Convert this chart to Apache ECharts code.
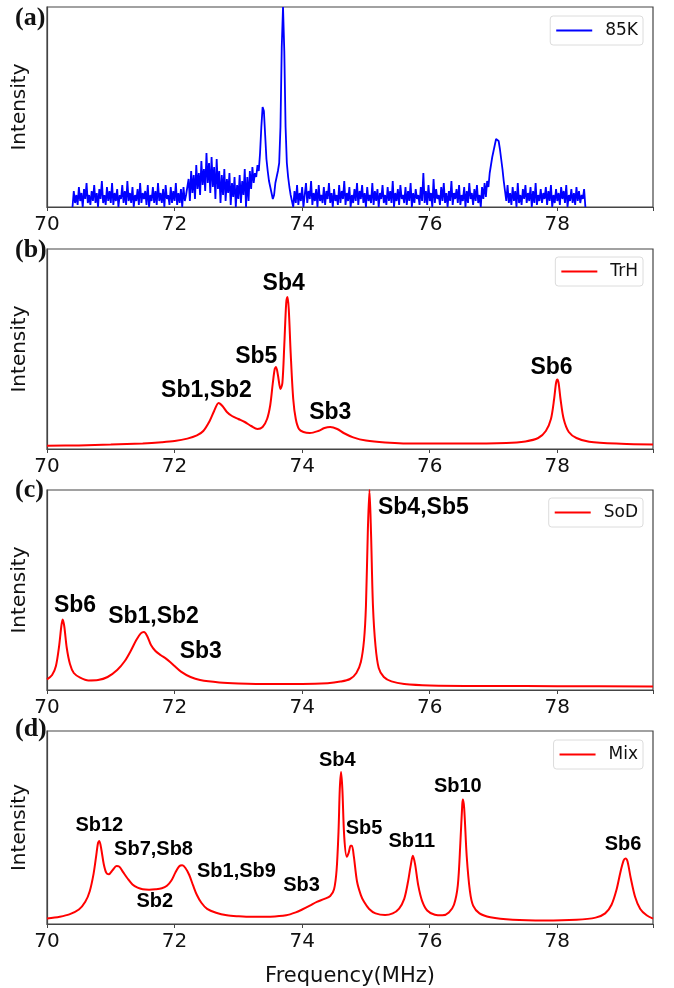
<!DOCTYPE html>
<html>
<head>
<meta charset="utf-8">
<script src="https://cdn.jsdelivr.net/npm/echarts@6/dist/echarts.min.js"></script>
<style>html,body{margin:0;padding:0;background:#fff;}#c{width:674px;height:988px;}</style>
</head>
<body>
<div id="c"></div>
<script>
// ---------- data ----------
const xTicks = [70, 72, 74, 76, 78];

// (a) 85K measured spectrum [frequency MHz, intensity]
const data85K = [
[70.40,0.00],[70.42,0.08],[70.44,0.02],[70.46,0.06],[70.48,0.01],[70.50,0.10],[70.52,0.03],[70.54,0.07],[70.56,0.00],[70.58,0.09],
[70.60,0.04],[70.62,0.12],[70.64,0.02],[70.66,0.06],[70.68,0.01],[70.70,0.08],[70.72,0.03],[70.74,0.11],[70.76,0.02],[70.78,0.07],
[70.80,0.00],[70.82,0.09],[70.84,0.04],[70.86,0.13],[70.88,0.02],[70.90,0.06],[70.92,0.01],[70.94,0.10],[70.96,0.03],[70.98,0.08],
[71.00,0.02],[71.02,0.12],[71.04,0.01],[71.06,0.07],[71.08,0.03],[71.10,0.09],[71.12,0.00],[71.14,0.06],[71.16,0.04],[71.18,0.11],
[71.20,0.02],[71.22,0.08],[71.24,0.01],[71.26,0.13],[71.28,0.03],[71.30,0.07],[71.32,0.02],[71.34,0.10],[71.36,0.00],[71.38,0.06],
[71.40,0.03],[71.42,0.09],[71.44,0.01],[71.46,0.12],[71.48,0.02],[71.50,0.07],[71.52,0.04],[71.54,0.08],[71.56,0.01],[71.58,0.11],
[71.60,0.00],[71.62,0.06],[71.64,0.03],[71.66,0.10],[71.68,0.02],[71.70,0.08],[71.72,0.01],[71.74,0.12],[71.76,0.03],[71.78,0.07],
[71.80,0.02],[71.82,0.09],[71.84,0.00],[71.86,0.11],[71.88,0.04],[71.90,0.06],[71.92,0.01],[71.94,0.10],[71.96,0.02],[71.98,0.08],
[72.00,0.03],[72.02,0.12],[72.04,0.01],[72.06,0.07],[72.08,0.02],[72.10,0.09],[72.12,0.00],[72.14,0.10],[72.16,0.03],[72.18,0.06],
[72.20,0.05],[72.22,0.14],[72.24,0.03],[72.26,0.18],[72.28,0.07],[72.30,0.16],[72.32,0.04],[72.34,0.21],[72.36,0.09],[72.38,0.17],
[72.40,0.06],[72.42,0.23],[72.44,0.11],[72.46,0.19],[72.48,0.08],[72.50,0.27],[72.52,0.12],[72.54,0.22],[72.56,0.07],[72.58,0.25],
[72.60,0.10],[72.62,0.20],[72.64,0.04],[72.66,0.24],[72.68,0.09],[72.70,0.18],[72.72,0.02],[72.74,0.16],[72.76,0.06],[72.78,0.19],
[72.80,0.03],[72.82,0.14],[72.84,0.07],[72.86,0.17],[72.88,0.01],[72.90,0.12],[72.92,0.05],[72.94,0.15],[72.96,0.00],[72.98,0.11],
[73.00,0.04],[73.02,0.16],[73.04,0.02],[73.06,0.13],[73.08,0.06],[73.10,0.19],[73.12,0.00],[73.14,0.15],[73.16,0.03],[73.18,0.18],
[73.20,0.09],[73.22,0.20],[73.24,0.12],[73.26,0.17],[73.28,0.15],[73.30,0.21],[73.32,0.18],[73.34,0.27],[73.36,0.40],[73.38,0.50],
[73.39,0.51],[73.40,0.48],[73.42,0.36],[73.44,0.24],[73.46,0.18],[73.48,0.13],[73.50,0.10],[73.52,0.07],[73.54,0.04],[73.56,0.06],
[73.58,0.12],[73.60,0.15],[73.62,0.18],[73.64,0.22],[73.66,0.40],[73.68,0.80],[73.70,1.00],[73.72,0.78],[73.74,0.40],[73.76,0.22],
[73.78,0.15],[73.80,0.10],[73.82,0.06],[73.84,0.03],[73.86,0.00],
[73.88,0.08],[73.90,0.02],[73.92,0.11],[73.94,0.01],[73.96,0.07],[73.98,0.03],[74.00,0.10],[74.02,0.00],[74.04,0.06],[74.06,0.12],
[74.08,0.02],[74.10,0.08],[74.12,0.04],[74.14,0.13],[74.16,0.01],[74.18,0.07],[74.20,0.03],[74.22,0.09],[74.24,0.00],[74.26,0.11],
[74.28,0.03],[74.30,0.06],[74.32,0.02],[74.34,0.10],[74.36,0.01],[74.38,0.08],[74.40,0.04],[74.42,0.12],[74.44,0.02],[74.46,0.07],
[74.48,0.00],[74.50,0.09],[74.52,0.03],[74.54,0.06],[74.56,0.01],[74.58,0.11],[74.60,0.02],[74.62,0.08],[74.64,0.04],[74.66,0.13],
[74.68,0.01],[74.70,0.07],[74.72,0.03],[74.74,0.10],[74.76,0.00],[74.78,0.06],[74.80,0.02],[74.82,0.09],[74.84,0.03],[74.86,0.12],
[74.88,0.01],[74.90,0.08],[74.92,0.04],[74.94,0.11],[74.96,0.02],[74.98,0.07],[75.00,0.00],[75.02,0.10],[75.04,0.03],[75.06,0.06],
[75.08,0.02],[75.10,0.12],[75.12,0.01],[75.14,0.08],[75.16,0.03],[75.18,0.09],[75.20,0.00],[75.22,0.07],[75.24,0.04],[75.26,0.11],
[75.28,0.02],[75.30,0.06],[75.32,0.01],[75.34,0.10],[75.36,0.03],[75.38,0.08],[75.40,0.02],[75.42,0.13],[75.44,0.00],[75.46,0.07],
[75.48,0.03],[75.50,0.09],[75.52,0.01],[75.54,0.11],[75.56,0.04],[75.58,0.06],[75.60,0.02],[75.62,0.10],[75.64,0.01],[75.66,0.08],
[75.68,0.03],[75.70,0.12],[75.72,0.00],[75.74,0.07],[75.76,0.02],[75.78,0.09],[75.80,0.04],[75.82,0.06],[75.84,0.01],[75.86,0.10],
[75.88,0.03],[75.90,0.17],[75.92,0.02],[75.94,0.08],[75.96,0.01],[75.98,0.11],[76.00,0.03],[76.02,0.07],[76.04,0.00],[76.06,0.14],
[76.08,0.02],[76.10,0.09],[76.12,0.04],[76.14,0.06],[76.16,0.01],[76.18,0.10],[76.20,0.03],[76.22,0.12],[76.24,0.02],[76.26,0.07],
[76.28,0.00],[76.30,0.08],[76.32,0.03],[76.34,0.13],[76.36,0.01],[76.38,0.07],[76.40,0.04],[76.42,0.09],[76.44,0.02],[76.46,0.11],
[76.48,0.01],[76.50,0.06],[76.52,0.03],[76.54,0.10],[76.56,0.00],[76.58,0.08],[76.60,0.02],[76.62,0.12],[76.64,0.04],[76.66,0.07],
[76.68,0.01],[76.70,0.09],[76.72,0.03],[76.74,0.11],[76.76,0.02],[76.78,0.06],[76.80,0.00],[76.82,0.10],[76.84,0.04],[76.86,0.12],
[76.88,0.05],[76.90,0.13],[76.92,0.10],[76.94,0.17],[76.96,0.21],[76.98,0.25],[77.00,0.28],[77.02,0.31],[77.04,0.34],[77.06,0.35],
[77.08,0.33],[77.10,0.29],[77.12,0.24],[77.14,0.19],[77.16,0.13],[77.18,0.08],[77.20,0.03],
[77.22,0.11],[77.24,0.02],[77.26,0.07],[77.28,0.01],[77.30,0.10],[77.32,0.03],[77.34,0.08],[77.36,0.00],[77.38,0.12],[77.40,0.02],
[77.42,0.06],[77.44,0.01],[77.46,0.09],[77.48,0.04],[77.50,0.11],[77.52,0.02],[77.54,0.07],[77.56,0.03],[77.58,0.10],[77.60,0.00],
[77.62,0.08],[77.64,0.02],[77.66,0.12],[77.68,0.01],[77.70,0.06],[77.72,0.03],[77.74,0.09],[77.76,0.02],[77.78,0.07],[77.80,0.04],
[77.82,0.10],[77.84,0.01],[77.86,0.08],[77.88,0.03],[77.90,0.11],[77.92,0.00],[77.94,0.06],[77.96,0.02],[77.98,0.09],[78.00,0.03],
[78.02,0.07],[78.04,0.01],[78.06,0.10],[78.08,0.04],[78.10,0.08],[78.12,0.02],[78.14,0.11],[78.16,0.00],[78.18,0.06],[78.20,0.03],
[78.22,0.09],[78.24,0.02],[78.26,0.07],[78.28,0.01],[78.30,0.10],[78.32,0.03],[78.34,0.08],[78.36,0.02],[78.38,0.06],[78.40,0.04],
[78.42,0.09],[78.44,0.00]
];

// (b) TrH simulated
const dataTrH = [
[70.00,0.016],[70.50,0.018],[71.00,0.022],[71.50,0.028],[71.80,0.034],[72.00,0.040],[72.20,0.052],[72.35,0.068],[72.45,0.090],[72.55,0.140],
[72.62,0.190],[72.69,0.230],[72.75,0.215],[72.82,0.185],[72.90,0.165],[73.00,0.150],[73.10,0.135],[73.20,0.115],[73.30,0.100],[73.38,0.110],
[73.45,0.150],[73.50,0.220],[73.54,0.330],[73.57,0.400],[73.59,0.410],[73.62,0.370],[73.66,0.300],[73.69,0.330],[73.72,0.520],[73.75,0.730],
[73.77,0.760],[73.79,0.700],[73.82,0.480],[73.86,0.250],[73.90,0.150],[73.95,0.100],[74.02,0.085],[74.12,0.080],[74.25,0.090],[74.35,0.105],
[74.44,0.110],[74.55,0.100],[74.65,0.080],[74.80,0.058],[75.00,0.042],[75.30,0.033],[75.80,0.027],[76.50,0.027],[77.20,0.030],[77.50,0.038],
[77.70,0.055],[77.82,0.090],[77.90,0.150],[77.95,0.250],[77.98,0.330],[78.00,0.347],[78.02,0.330],[78.05,0.250],[78.10,0.150],[78.18,0.085],
[78.30,0.055],[78.50,0.036],[79.00,0.026],[79.50,0.022]
];

// (c) SoD simulated
const dataSoD = [
[70.00,0.053],[70.08,0.075],[70.14,0.120],[70.19,0.220],[70.225,0.320],[70.245,0.353],[70.27,0.320],[70.31,0.210],[70.36,0.130],[70.42,0.085],
[70.52,0.062],[70.65,0.048],[70.80,0.050],[70.95,0.065],[71.10,0.100],[71.22,0.145],[71.32,0.200],[71.40,0.250],[71.47,0.283],[71.52,0.290],
[71.57,0.270],[71.63,0.225],[71.70,0.195],[71.78,0.175],[71.86,0.158],[71.93,0.140],[72.00,0.120],[72.10,0.092],[72.25,0.065],[72.40,0.050],
[72.70,0.038],[73.00,0.033],[73.50,0.030],[74.00,0.030],[74.40,0.034],[74.60,0.042],[74.75,0.055],[74.85,0.085],[74.92,0.140],[74.97,0.250],
[75.00,0.420],[75.03,0.800],[75.055,1.000],[75.08,0.780],[75.11,0.420],[75.15,0.220],[75.20,0.110],[75.28,0.065],[75.40,0.043],[75.60,0.030],
[76.00,0.023],[77.00,0.020],[78.00,0.019],[79.50,0.017]
];

// (d) Mix simulated
const dataMix = [
[70.00,0.028],[70.20,0.038],[70.35,0.050],[70.50,0.075],[70.60,0.115],[70.67,0.170],[70.73,0.260],[70.77,0.350],[70.80,0.420],[70.82,0.430],
[70.85,0.390],[70.89,0.310],[70.93,0.265],[70.97,0.258],[71.03,0.280],[71.09,0.300],[71.13,0.298],[71.19,0.270],[71.26,0.237],[71.34,0.205],
[71.42,0.188],[71.50,0.180],[71.60,0.178],[71.70,0.180],[71.80,0.185],[71.88,0.198],[71.95,0.225],[72.01,0.265],[72.07,0.298],[72.12,0.304],
[72.17,0.290],[72.23,0.254],[72.29,0.200],[72.35,0.150],[72.42,0.110],[72.51,0.078],[72.65,0.058],[72.82,0.045],[73.00,0.040],[73.20,0.037],
[73.50,0.038],[73.75,0.045],[73.90,0.060],[74.00,0.075],[74.12,0.095],[74.23,0.115],[74.35,0.130],[74.44,0.145],[74.50,0.180],[74.54,0.280],
[74.57,0.480],[74.59,0.700],[74.61,0.787],[74.63,0.700],[74.66,0.450],[74.70,0.348],[74.73,0.370],[74.76,0.405],[74.78,0.405],[74.81,0.350],
[74.86,0.220],[74.92,0.150],[74.97,0.115],[75.05,0.078],[75.15,0.055],[75.30,0.046],[75.42,0.055],[75.52,0.080],[75.60,0.130],[75.66,0.220],
[75.70,0.300],[75.735,0.353],[75.77,0.310],[75.82,0.200],[75.88,0.120],[75.96,0.070],[76.08,0.048],[76.20,0.045],[76.30,0.060],[76.38,0.100],
[76.44,0.200],[76.48,0.420],[76.51,0.620],[76.52,0.645],[76.54,0.600],[76.58,0.350],[76.63,0.170],[76.68,0.095],[76.78,0.055],[76.95,0.035],
[77.30,0.022],[77.80,0.018],[78.30,0.022],[78.60,0.033],[78.75,0.055],[78.85,0.100],[78.93,0.180],[78.99,0.270],[79.04,0.330],[79.07,0.340],
[79.10,0.325],[79.15,0.240],[79.22,0.140],[79.30,0.078],[79.40,0.045],[79.50,0.028]
];

// peak annotations: names and positions [frequency, intensity]
const trhLabels = ['Sb1,Sb2', 'Sb5', 'Sb4', 'Sb3', 'Sb6'];
const trhLabelPos = [[72.50,0.29],[73.28,0.463],[73.71,0.825],[74.44,0.181],[77.91,0.406]];
const sodLabels = ['Sb6', 'Sb1,Sb2', 'Sb3', 'Sb4,Sb5'];
const sodLabelPos = [[70.44,0.42],[71.67,0.367],[72.41,0.19],[75.90,0.91]];
const mixLabels = ['Sb12', 'Sb7,Sb8', 'Sb2', 'Sb1,Sb9', 'Sb3', 'Sb4', 'Sb5', 'Sb11', 'Sb10', 'Sb6'];
const mixLabelPos = [[70.82,0.513],[71.67,0.384],[71.69,0.116],[72.97,0.27],[73.99,0.2],[74.55,0.846],[74.97,0.494],[75.72,0.427],[76.44,0.71],[79.03,0.414]];

const seriesNames = ['85K', 'TrH', 'SoD', 'Mix'];
const panelTags = ['(a)', '(b)', '(c)', '(d)'];

// ---------- layout ----------
const gridTops = [7, 249, 490, 731];
const gridH = 200;
const gridLeft = 47, gridRight = 21;
const legendTops = [16, 257, 498, 740];
const tagY = [19, 251, 491, 730];

const chart = echarts.init(document.getElementById('c'), null, {renderer: 'canvas'});

const grids = gridTops.map(t => ({left: gridLeft, right: gridRight, top: t, height: gridH,
  show: true, borderColor: '#444', borderWidth: 1.2, backgroundColor: 'transparent'}));

const xAxes = gridTops.map((t, i) => ({
  type: 'value', gridIndex: i, min: 70, max: 79.5, interval: 2,
  axisLine: {show: true, lineStyle: {color: '#444', width: 1.2}},
  axisTick: {show: true, length: 4, lineStyle: {color: '#444'}},
  axisLabel: {show: true, fontSize: 20, fontFamily: 'DejaVu Sans', color: '#111', margin: 8,
    formatter: v => xTicks.indexOf(v) >= 0 ? String(v) : ''},
  splitLine: {show: false},
  name: i === 3 ? 'Frequency(MHz)' : '',
  nameLocation: 'middle', nameGap: 42,
  nameTextStyle: {fontSize: 21, fontFamily: 'DejaVu Sans', color: '#111'}
}));

const yAxes = gridTops.map((t, i) => ({
  type: 'value', gridIndex: i, min: 0, max: 1,
  axisLine: {show: true, lineStyle: {color: '#444', width: 1.2}},
  axisTick: {show: false}, axisLabel: {show: false}, splitLine: {show: false},
  name: 'Intensity', nameLocation: 'middle', nameGap: 17,
  nameTextStyle: {fontSize: 20, fontFamily: 'DejaVu Sans', color: '#111'}
}));

const allData = [data85K, dataTrH, dataSoD, dataMix];
const colors = ['#0000ff', '#ff0000', '#ff0000', '#ff0000'];
const widths = [1.8, 2, 2, 2];

const series = allData.map((d, i) => ({
  name: seriesNames[i], type: 'line', xAxisIndex: i, yAxisIndex: i,
  data: d, symbol: 'none', showSymbol: false, smooth: i === 0 ? false : 0.3,
  lineStyle: {color: colors[i], width: widths[i]}, itemStyle: {color: colors[i]},
  animation: false, z: 3
}));

function labelSeries(idx, names, pos, size) {
  return {
    type: 'scatter', xAxisIndex: idx, yAxisIndex: idx, silent: true, animation: false,
    symbol: 'circle', symbolSize: 1, itemStyle: {color: '#000', opacity: 0}, z: 5,
    data: names.map((n, k) => ({name: n, value: pos[k]})),
    label: {show: true, position: 'inside', formatter: p => p.name, opacity: 1,
      fontFamily: 'Liberation Sans', fontWeight: 'bold', fontSize: size, color: '#000',
      textBorderWidth: 0, textBorderColor: 'transparent'}
  };
}
series.push(labelSeries(1, trhLabels, trhLabelPos, 23));
series.push(labelSeries(2, sodLabels, sodLabelPos, 23));
series.push(labelSeries(3, mixLabels, mixLabelPos, 20));

const legends = seriesNames.map((n, i) => ({
  data: [{name: n, icon: 'path://M0,0L36,0L36,2L0,2Z'}], right: 31, top: legendTops[i], orient: 'horizontal',
  itemWidth: 36, itemHeight: 2, padding: [6, 5, 6, 6],
  borderColor: '#dcdcdc', borderWidth: 1, borderRadius: 3, backgroundColor: '#fff',
  selectedMode: false,
  textStyle: {fontSize: 17, fontFamily: 'DejaVu Sans', color: '#111', padding: [0, 0, 0, 8], lineHeight: 16}
}));

const graphics = panelTags.map((t, i) => ({
  type: 'text', left: 15, top: tagY[i] - 14, z: 10,
  style: {text: t, font: 'bold 26px "Liberation Serif"', fill: '#111'}
}));

chart.setOption({
  animation: false,
  backgroundColor: '#fff',
  grid: grids, xAxis: xAxes, yAxis: yAxes, series: series,
  legend: legends, graphic: graphics
});
</script>
</body>
</html>
